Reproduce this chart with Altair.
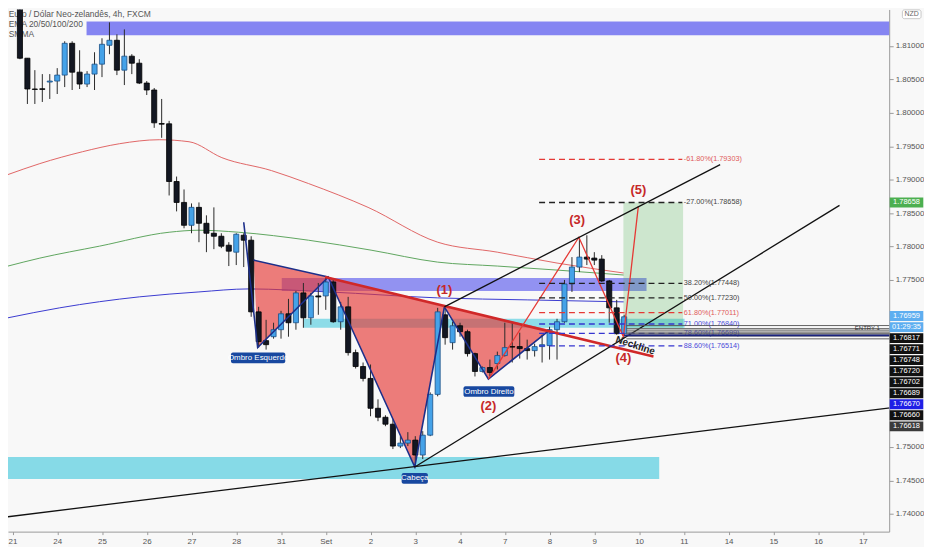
import altair as alt
import pandas as pd
import numpy as np

FONT = "Liberation Sans"
BG = "#f8f8f8"

# ---------------- axis labels ----------------
day_labels = ["21", "24", "25", "26", "27", "28", "31", "Set", "2", "3", "4",
              "7", "8", "9", "10", "11", "14", "15", "16", "17"]
BARS_PER_DAY = 6
# labels that are not hidden behind the price tags
price_ticks = [1.740, 1.745, 1.750, 1.775, 1.780,
               1.785, 1.790, 1.795, 1.800, 1.805, 1.810]

# ---------------- candles (4h), first bar index -1 ----------------
first_bar = -1
opens = [1.81486, 1.81635, 1.81576, 1.80817, 1.80356, 1.80360, 1.80460, 1.80475, 1.80564, 1.81040,
         1.80608, 1.80430, 1.80579, 1.80728, 1.81010, 1.81085, 1.80638, 1.80847, 1.80742, 1.80445,
         1.80341, 1.79840, 1.79835, 1.78972, 1.78659, 1.78317, 1.78585, 1.78347, 1.78198, 1.78153,
         1.78019, 1.77915, 1.78168, 1.78094, 1.77022, 1.76591, 1.76650, 1.76755, 1.76993, 1.76859,
         1.77305, 1.76933, 1.77260, 1.77260, 1.77469, 1.76874, 1.77097, 1.76412, 1.76204, 1.76026,
         1.75579, 1.75445, 1.75341, 1.75014, 1.75058, 1.75103, 1.74880, 1.75177, 1.75787, 1.76978,
         1.76561, 1.76814, 1.76725, 1.76397, 1.76130, 1.76189, 1.76249, 1.76368, 1.76502, 1.76502,
         1.76472, 1.76442, 1.76502, 1.76517, 1.76755, 1.76874, 1.77439, 1.77692, 1.77841, 1.77826,
         1.77811, 1.77484, 1.77082, 1.76695]
highs = [1.81665, 1.81665, 1.81665, 1.80817, 1.80638, 1.80579, 1.80579, 1.80668, 1.81070, 1.81070,
         1.80936, 1.80623, 1.80906, 1.81115, 1.81353, 1.81174, 1.81248, 1.80877, 1.80802, 1.80475,
         1.80371, 1.80207, 1.79879, 1.79046, 1.78853, 1.78644, 1.78659, 1.78466, 1.78585, 1.78198,
         1.78064, 1.78198, 1.78198, 1.78153, 1.77097, 1.76903, 1.76859, 1.77037, 1.77216, 1.77335,
         1.77454, 1.77305, 1.77454, 1.77543, 1.77499, 1.77171, 1.77246, 1.76457, 1.76264, 1.76234,
         1.75713, 1.75475, 1.75415, 1.75162, 1.75222, 1.75162, 1.75237, 1.75817, 1.77082, 1.77097,
         1.76874, 1.76859, 1.76755, 1.76412, 1.76204, 1.76308, 1.76427, 1.76859, 1.76859, 1.76710,
         1.76606, 1.76546, 1.76680, 1.76799, 1.76918, 1.77499, 1.77841, 1.78124, 1.78168, 1.77915,
         1.77870, 1.77499, 1.77201, 1.76978]
lows = [1.81457, 1.81561, 1.80802, 1.80132, 1.80132, 1.80162, 1.80207, 1.80281, 1.80385, 1.80341,
        1.80356, 1.80385, 1.80341, 1.80534, 1.80877, 1.80564, 1.80415, 1.80579, 1.80430, 1.80266,
        1.79775, 1.79626, 1.78763, 1.78525, 1.78272, 1.78198, 1.78064, 1.77915, 1.77960, 1.77975,
        1.77707, 1.77722, 1.77692, 1.76948, 1.76487, 1.76457, 1.76621, 1.76621, 1.76650, 1.76755,
        1.76784, 1.76829, 1.76978, 1.77052, 1.76859, 1.76755, 1.76368, 1.76174, 1.75981, 1.75460,
        1.75386, 1.75311, 1.74969, 1.74984, 1.75014, 1.74701, 1.74820, 1.75162, 1.75758, 1.76531,
        1.76457, 1.76650, 1.76353, 1.76055, 1.76115, 1.76055, 1.76160, 1.76353, 1.76264, 1.76323,
        1.76308, 1.76353, 1.76264, 1.76308, 1.76308, 1.76859, 1.77320, 1.77617, 1.77722, 1.77722,
        1.77469, 1.76859, 1.76680, 1.76650]
closes = [1.81635, 1.81576, 1.80817, 1.80356, 1.80350, 1.80350, 1.80475, 1.80564, 1.81040, 1.80608,
          1.80430, 1.80579, 1.80728, 1.81025, 1.81085, 1.80638, 1.80847, 1.80742, 1.80445, 1.80341,
          1.79850, 1.79830, 1.78972, 1.78659, 1.78317, 1.78585, 1.78347, 1.78198, 1.78153, 1.78005,
          1.77930, 1.78183, 1.78094, 1.77022, 1.76576, 1.76531, 1.76755, 1.76993, 1.76859, 1.77305,
          1.76933, 1.77260, 1.77245, 1.77469, 1.76874, 1.77097, 1.76412, 1.76204, 1.76026, 1.75579,
          1.75445, 1.75341, 1.75014, 1.75058, 1.75103, 1.74880, 1.75177, 1.75787, 1.77022, 1.76636,
          1.76814, 1.76725, 1.76397, 1.76130, 1.76189, 1.76115, 1.76368, 1.76487, 1.76495, 1.76472,
          1.76442, 1.76502, 1.76531, 1.76755, 1.76874, 1.77439, 1.77692, 1.77841, 1.77811, 1.77796,
          1.77484, 1.77082, 1.76695, 1.76948]

# ---------------- moving averages (sampled) ----------------
ma_red_k = [-0.6, 3.67, 9.4, 14.33, 19.67, 23.67, 28.07, 34.73, 39.67, 47.67, 57.0, 65.0, 73.0, 81.93]
ma_red_p = [1.79076, 1.79240, 1.79418, 1.79537, 1.79597, 1.79567, 1.79329, 1.79135, 1.78942,
            1.78585, 1.78064, 1.77915, 1.77752, 1.77603]
ma_green_k = [-0.6, 3.67, 11.67, 21, 25, 30.33, 39.67, 48.07, 57, 65, 73, 81.93]
ma_green_p = [1.77707, 1.77826, 1.78005, 1.78213, 1.78243, 1.78213, 1.78094, 1.77945, 1.77766,
              1.77707, 1.77647, 1.77573]
ma_blue_k = [-0.6, 6.33, 17, 25, 31.67, 42.33, 57, 69, 81.93]
ma_blue_p = [1.76933, 1.77082, 1.77246, 1.77320, 1.77365, 1.77320, 1.77231, 1.77201, 1.77171]

# ---------------- zones ----------------
zone_x1 = [9.93, 36.1, 39.0, -1.7]
zone_x2 = [125.0, 85.0, 90.1, 86.7]
zone_lo = [1.81159, 1.77335, 1.76784, 1.74523]
zone_hi = [1.81367, 1.77529, 1.76918, 1.74850]
zone_col = ["#8585f2", "#6b6bee", "#72d4e4", "#80d8e6"]
zone_op = [1.0, 0.72, 0.8, 0.95]

# long position target box
pos_k = [81.9, 89.9]
pos_p = [1.76784, 1.78658]

# ---------------- head & shoulders pattern ----------------
pat_k = [31.0, 32.87, 42.33, 53.93, 57.9, 63.8, 72.07]
pat_p = [1.78362, 1.76487, 1.77543, 1.74701, 1.77097, 1.76016, 1.76755]
shoulder_top_k = [32.33, 42.33]
shoulder_top_p = [1.77796, 1.77543]
tri_k = [[32.33, 32.87, 42.33], [42.33, 53.93, 57.9], [57.9, 63.8, 72.07]]
tri_p = [[1.77796, 1.76487, 1.77543], [1.77543, 1.74701, 1.77097], [1.77097, 1.76016, 1.76755]]
neck_k = [41.9, 85.93]
neck_p = [1.77543, 1.76353]
wave_k = [63.8, 75.93, 81.9, 83.9]
wave_p = [1.76016, 1.78138, 1.76650, 1.78600]

# black trend lines
tl_k = [[57.9, 94.87], [53.93, 110.87], [-1.67, 118.3]]
tl_p = [[1.77097, 1.79225], [1.74701, 1.78615], [1.73942, 1.75594]]

# ---------------- fibonacci ----------------
fib_k = [70.6, 89.8]
fib_labels = ["-61.80%(1.79303)", "-27.00%(1.78658)", "38.20%(1.77448)", "50.00%(1.77230)",
              "61.80%(1.77011)", "71.00%(1.76840)", "78.60%(1.76699)", "88.60%(1.76514)"]
fib_prices = [1.79303, 1.78658, 1.77448, 1.77230, 1.77011, 1.76840, 1.76699, 1.76514]
fib_line_col = ["#e53935", "#222222", "#222222", "#222222", "#e53935", "#3535d0", "#3535d0", "#3535d0"]
fib_text_col = ["#e05a5a", "#444444", "#444444", "#444444", "#e05a5a", "#4a4ad8", "#4a4ad8", "#4a4ad8"]

# order / position lines on the right
level_prices = [1.76817, 1.76771, 1.76748, 1.76720, 1.76702, 1.76689, 1.76660, 1.76618]
last_price = 1.76670
level_k = [82.3, 125.0]

# ---------------- texts ----------------
num_text = ["(1)", "(2)", "(3)", "(4)", "(5)"]
num_k = [57.9, 63.8, 75.7, 81.9, 83.9]
num_p = [1.77350, 1.75609, 1.78391, 1.76338, 1.78838]
box_text = ["Ombro Esquerdo", "Cabeça", "Ombro Direito"]
box_k = [32.93, 53.93, 63.87]
box_p = [1.76333, 1.74530, 1.75830]
title_lines = ["Euro / Dólar Neo-zelandês, 4h, FXCM", "EMA 20/50/100/200", "SMMA"]
title_p = [1.81479, 1.81330, 1.81181]

# axis price tags
tag_texts = ["1.76959", "01:29:35", "1.76817", "1.76771", "1.76748", "1.76720", "1.76702",
             "1.76689", "1.76670", "1.76660", "1.76618"]
tag_fill = ["#5eaef0", "#5eaef0", "#111111", "#111111", "#111111", "#111111", "#111111",
            "#111111", "#1f1fe6", "#111111", "#3a3a3a"]
tag_top = 1.76959
target_tag = "1.78658"
target_price = 1.78658

# ================= build =================
xs = alt.Scale(domain=[-0.6, 117.53], nice=False, zero=False)
ys = alt.Scale(domain=[1.73734, 1.81546], nice=False, zero=False)
js_days = "[" + ",".join("'%s'" % d for d in day_labels) + "]"
XAX = alt.Axis(values=[BARS_PER_DAY * j for j in range(len(day_labels))],
               labelExpr=js_days + "[round(datum.value/%d)]" % BARS_PER_DAY,
               title=None, grid=False, tickSize=3, labelFontSize=8, labelColor="#555555",
               domainColor="#9a9a9a", tickColor="#9a9a9a", labelFont=FONT, labelPadding=3,
               labelFlush=False, labelOverlap=False)
YAX = alt.Axis(orient="right", values=price_ticks, format=".5f", title=None, grid=False,
               tickSize=4, labelFontSize=8, labelColor="#555555", domainColor="#9a9a9a",
               tickColor="#9a9a9a", labelFont=FONT, labelPadding=2, labelFlush=False,
               labelOverlap=False)


def X(f):
    return alt.X(f, type="quantitative", scale=xs, axis=XAX)


def Y(f):
    return alt.Y(f, type="quantitative", scale=ys, axis=YAX, stack=None)


layers = []

# zones
zones = pd.DataFrame({"x1": zone_x1, "x2": zone_x2, "lo": zone_lo, "hi": zone_hi,
                      "col": zone_col, "op": zone_op})
layers.append(alt.Chart(zones).mark_rect(clip=True).encode(
    x=X("x1"), x2="x2", y=Y("lo"), y2="hi",
    color=alt.Color("col:N", scale=None), opacity=alt.Opacity("op:Q", scale=None)))

posdf = pd.DataFrame({"x1": [pos_k[0]], "x2": [pos_k[1]], "lo": [pos_p[0]], "hi": [pos_p[1]]})
layers.append(alt.Chart(posdf).mark_rect(clip=True, color="#4caf50", opacity=0.25).encode(
    x=X("x1"), x2="x2", y=Y("lo"), y2="hi"))

# title text
tdf = pd.DataFrame({"t": title_lines, "p": title_p, "k": [-0.5] * 3})
layers.append(alt.Chart(tdf).mark_text(align="left", baseline="middle", font=FONT, fontSize=8.5,
                                       color="#555555", clip=True).encode(x=X("k"), y=Y("p"), text="t:N"))

# moving averages
for ks, ps, col in [(ma_red_k, ma_red_p, "#e06666"), (ma_green_k, ma_green_p, "#5fa55f"),
                    (ma_blue_k, ma_blue_p, "#3a3ad0")]:
    mdf = pd.DataFrame({"k": ks, "p": ps})
    layers.append(alt.Chart(mdf).mark_line(color=col, strokeWidth=1, interpolate="monotone",
                                           clip=True).encode(x=X("k"), y=Y("p")))

# triangles
rows = []
for t, (kk, pp) in enumerate(zip(tri_k, tri_p)):
    k0, k1, k2 = kk
    p0, p1, p2 = pp
    top_mid = p0 + (p2 - p0) * (k1 - k0) / (k2 - k0)
    rows += [dict(t=t, k=k0, top=p0, bot=p0), dict(t=t, k=k1, top=top_mid, bot=p1),
             dict(t=t, k=k2, top=p2, bot=p2)]
tri = pd.DataFrame(rows)
layers.append(alt.Chart(tri).mark_area(color="#e53935", opacity=0.65, clip=True).encode(
    x=X("k"), y=Y("top"), y2="bot", detail="t:N"))

# candles
cd = pd.DataFrame({"k": np.arange(first_bar, first_bar + len(opens)), "o": opens, "h": highs,
                   "l": lows, "c": closes})
bull = cd["c"] >= cd["o"]
cd["fill"] = np.where(bull, "#45a2e8", "#131722")
cd["edge"] = np.where(bull, "#1b4f86", "#000000")
cd["x1"] = cd["k"] - 0.34
cd["x2"] = cd["k"] + 0.34
layers.append(alt.Chart(cd).mark_rule(strokeWidth=1, clip=True).encode(
    x=X("k"), y=Y("l"), y2="h", color=alt.value("#2a2a2a")))
layers.append(alt.Chart(cd).mark_rect(strokeWidth=0.8, clip=True).encode(
    x=X("x1"), x2="x2", y=Y("o"), y2="c",
    fill=alt.Fill("fill:N", scale=None), stroke=alt.Stroke("edge:N", scale=None)))

# pattern lines
pdf = pd.DataFrame({"k": pat_k, "p": pat_p, "s": range(len(pat_k))})
layers.append(alt.Chart(pdf).mark_line(color="#1c2f8a", strokeWidth=1.6, clip=True).encode(
    x=X("k"), y=Y("p"), order="s:Q"))
sdf = pd.DataFrame({"k": shoulder_top_k, "p": shoulder_top_p})
layers.append(alt.Chart(sdf).mark_line(color="#1c2f8a", strokeWidth=1.6, clip=True).encode(
    x=X("k"), y=Y("p")))
ndf = pd.DataFrame({"k": neck_k, "p": neck_p})
layers.append(alt.Chart(ndf).mark_line(color="#d02828", strokeWidth=2.6, clip=True).encode(
    x=X("k"), y=Y("p")))
wdf = pd.DataFrame({"k": wave_k, "p": wave_p, "s": range(len(wave_k))})
layers.append(alt.Chart(wdf).mark_line(color="#e53935", strokeWidth=1.3, clip=True).encode(
    x=X("k"), y=Y("p"), order="s:Q"))
trow = []
for g, (kk, pp) in enumerate(zip(tl_k, tl_p)):
    for s in range(2):
        trow.append(dict(g=g, s=s, k=kk[s], p=pp[s]))
tldf = pd.DataFrame(trow)
layers.append(alt.Chart(tldf).mark_line(color="#111111", strokeWidth=1.3, clip=True).encode(
    x=X("k"), y=Y("p"), detail="g:N", order="s:Q"))

# fib lines + labels
fdf = pd.DataFrame({"lab": fib_labels, "p": fib_prices, "lc": fib_line_col, "tc": fib_text_col,
                    "x1": fib_k[0], "x2": fib_k[1], "xt": fib_k[1] + 0.2})
layers.append(alt.Chart(fdf).mark_rule(strokeDash=[6, 4], strokeWidth=1.3, clip=True).encode(
    x=X("x1"), x2="x2", y=Y("p"), color=alt.Color("lc:N", scale=None)))
layers.append(alt.Chart(fdf).mark_text(align="left", baseline="middle", font=FONT, fontSize=7.3,
                                       clip=True).encode(
    x=X("xt"), y=Y("p"), text="lab:N", color=alt.Color("tc:N", scale=None)))

# position level lines
ldf = pd.DataFrame({"p": level_prices, "x1": level_k[0], "x2": level_k[1]})
layers.append(alt.Chart(ldf).mark_rule(color="#555555", strokeWidth=0.9, clip=True).encode(
    x=X("x1"), x2="x2", y=Y("p")))
lpdf = pd.DataFrame({"p": [last_price], "x1": [82.0], "x2": [125.0]})
layers.append(alt.Chart(lpdf).mark_rule(color="#1a237e", strokeWidth=2, clip=True).encode(
    x=X("x1"), x2="x2", y=Y("p")))
edf = pd.DataFrame({"t": ["ENTRY 1"], "k": [114.6], "p": [1.76784]})
layers.append(alt.Chart(edf).mark_text(font=FONT, fontSize=6, color="#333333", clip=True).encode(
    x=X("k"), y=Y("p"), text="t:N"))

# numbered labels
nmdf = pd.DataFrame({"t": num_text, "k": num_k, "p": num_p})
layers.append(alt.Chart(nmdf).mark_text(font=FONT, fontSize=13, fontWeight="bold", color="#c62828",
                                        clip=True).encode(x=X("k"), y=Y("p"), text="t:N"))

# boxed labels
bdf = pd.DataFrame({"t": box_text, "k": box_k, "p": box_p})
bdf["hw"] = bdf["t"].str.len() * 0.235 + 0.35
bdf["x1"] = bdf["k"] - bdf["hw"]
bdf["x2"] = bdf["k"] + bdf["hw"]
bdf["y1"] = bdf["p"] - 0.00080
bdf["y2"] = bdf["p"] + 0.00080
layers.append(alt.Chart(bdf).mark_rect(color="#1848a0", cornerRadius=2, clip=True).encode(
    x=X("x1"), x2="x2", y=Y("y1"), y2="y2"))
layers.append(alt.Chart(bdf).mark_text(font=FONT, fontSize=8, color="white", clip=True).encode(
    x=X("k"), y=Y("p"), text="t:N"))

nkdf = pd.DataFrame({"t": ["Neckline"], "k": [83.5], "p": [1.76517]})
layers.append(alt.Chart(nkdf).mark_text(font=FONT, fontSize=10, fontWeight="bold", angle=18,
                                        color="#222222").encode(x=X("k"), y=Y("p"), text="t:N"))

# axis price tags
tg = pd.DataFrame({"t": tag_texts, "fill": tag_fill})
tg["p"] = tag_top - np.arange(len(tag_texts)) * 0.00165
tg = pd.concat([tg, pd.DataFrame({"t": [target_tag], "fill": ["#4caf50"], "p": [target_price]})],
               ignore_index=True)
tg["x1"] = 117.6
tg["x2"] = 122.1
tg["xm"] = 119.85
tg["y1"] = tg["p"] - 0.00074
tg["y2"] = tg["p"] + 0.00074
layers.append(alt.Chart(tg).mark_rect().encode(
    x=X("x1"), x2="x2", y=Y("y1"), y2="y2", color=alt.Color("fill:N", scale=None)))
layers.append(alt.Chart(tg).mark_text(font=FONT, fontSize=7.5, color="white").encode(
    x=X("xm"), y=Y("p"), text="t:N"))

# currency badge
nz = pd.DataFrame({"t": ["NZD"], "x1": [119.3], "x2": [121.8], "xm": [120.55],
                   "y1": [1.81408], "y2": [1.81540], "p": [1.81474]})
layers.append(alt.Chart(nz).mark_rect(fill="white", stroke="#bbbbbb", strokeWidth=0.8,
                                      cornerRadius=2).encode(x=X("x1"), x2="x2", y=Y("y1"), y2="y2"))
layers.append(alt.Chart(nz).mark_text(font=FONT, fontSize=7, color="#666666").encode(
    x=X("xm"), y=Y("p"), text="t:N"))

chart = alt.layer(*layers).properties(width=886, height=525, padding=0, background=BG).configure_view(
    stroke=None, fill=BG)

chart.save("out.html", embed_options={"renderer": "svg", "actions": False})
